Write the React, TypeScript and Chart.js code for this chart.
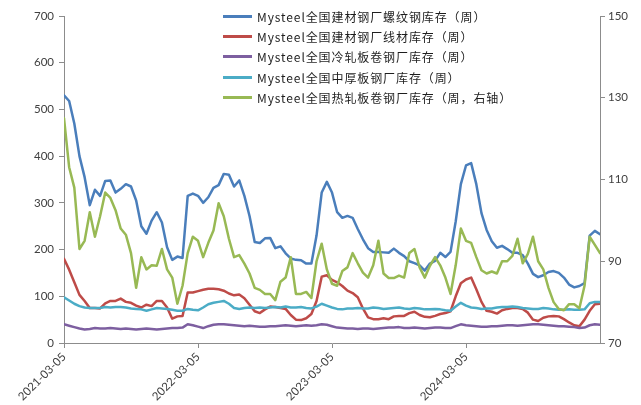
import React, { useEffect, useRef } from 'react';
import { Chart, registerables } from 'chart.js';

Chart.register(...registerables);

// x axis: week index (one point every 2 weeks, starting 2021-03-05)
const tickLabels = ['2021-03-05', '2022-03-05', '2023-03-05', '2024-03-05'];
const weeksPerPoint = 2;
const weeksPerTick = 52;

const seriesNames = [
  'Mysteel全国建材钢厂螺纹钢库存（周）',
  'Mysteel全国建材钢厂线材库存（周）',
  'Mysteel全国冷轧板卷钢厂库存（周）',
  'Mysteel全国中厚板钢厂库存（周）',
  'Mysteel全国热轧板卷钢厂库存（周，右轴）',
];
const seriesColors = ['#4a7ebb', '#be4b48', '#7d5fa0', '#4bacc6', '#98b954'];

const rebar = [
  530, 518, 470, 400, 355, 295, 328, 315, 347, 348,
  322, 330, 340, 335, 305, 250, 234, 262, 280, 258,
  205, 178, 185, 182, 315, 320, 315, 300, 312, 332,
  338, 362, 360, 335, 348, 315, 272, 216, 214, 224,
  225, 203, 207, 192, 181, 178, 177, 170, 170, 230,
  322, 345, 322, 280, 268, 272, 268, 244, 222, 203,
  195, 195, 194, 193, 202, 193, 186, 175, 171, 166,
  155, 170, 176, 193, 184, 195, 260, 340, 380, 385,
  340, 278, 242, 218, 204, 208, 201, 193, 193, 188,
  170, 148, 141, 145, 152, 154, 150, 140, 125, 119,
  122, 128, 230, 240, 233,
];

const wireRod = [
  180, 157, 130, 103, 90, 75, 75, 74, 85, 90,
  90, 95, 88, 86, 80, 76, 82, 79, 90, 90,
  76, 52, 57, 58, 108, 108, 111, 114, 116, 116,
  115, 112, 106, 102, 104, 96, 82, 68, 64, 72,
  78, 77, 75, 73, 60, 50, 49, 53, 62, 90,
  142, 145, 135, 130, 122, 112, 107, 98, 74, 55,
  51, 51, 53, 51, 57, 58, 58, 64, 67, 60,
  56, 55, 58, 62, 64, 68, 100, 128, 136, 140,
  115, 88, 69, 67, 63, 70, 73, 75, 75, 73,
  65, 50, 47, 54, 57, 58, 57, 51, 44, 38,
  36, 50, 69, 83, 84,
];

const coldRolled = [
  40, 37, 34, 31, 29, 30, 32, 31, 31, 32,
  31, 30, 31, 30, 29, 30, 31, 30, 29, 30,
  31, 32, 32, 33, 40, 38, 35, 32, 36, 39,
  40, 40, 39, 38, 37, 36, 37, 36, 35, 35,
  36, 36, 37, 38, 37, 36, 37, 38, 37, 38,
  40, 39, 36, 33, 32, 31, 31, 30, 31, 31,
  30, 31, 32, 33, 33, 34, 32, 32, 33, 32,
  31, 32, 33, 33, 32, 32, 36, 40, 38, 37,
  36, 35, 35, 36, 36, 37, 38, 38, 37, 38,
  39, 40, 40, 39, 38, 37, 36, 36, 35, 34,
  32, 33, 38, 40, 39,
];

const mediumPlate = [
  98, 91, 84, 79, 76, 75, 75, 75, 77, 76,
  77, 77, 76, 74, 73, 72, 69, 72, 75, 74,
  73, 71, 69, 69, 73, 71, 70, 76, 83, 86,
  88, 90, 84, 75, 73, 75, 76, 75, 76, 75,
  76, 77, 76, 78, 76, 76, 77, 75, 74, 78,
  84, 80, 76, 73, 72, 74, 74, 75, 74, 74,
  76, 75, 73, 74, 75, 76, 74, 73, 75, 74,
  72, 72, 73, 72, 70, 69, 78, 86, 80, 76,
  75, 73, 74, 74, 76, 77, 77, 78, 77, 75,
  74, 73, 73, 75, 74, 72, 71, 71, 72, 71,
  71, 72, 85, 88, 88,
];

const hotRolled = [
  125, 113, 108, 93, 95, 102, 96, 101, 106.8, 105.5,
  102.5, 98, 96.5, 92, 83.5, 91, 88, 89, 88.9, 93,
  88, 86, 79.6, 84, 92, 96, 95, 91, 94.5, 97.5,
  104.2, 101, 95.5, 91, 91.5, 89.4, 87, 83.5, 83, 82,
  82, 80.5, 85, 86, 91, 82, 82, 82.5, 81, 90,
  94.3, 88, 84.5, 84, 87.6, 88.5, 92, 89.5, 87.2, 86,
  89, 95, 87, 85.9, 85.9, 86.5, 86, 92, 93, 88.5,
  86, 88.9, 91, 89, 86, 82, 89, 98, 95, 94.5,
  91, 87.8, 87, 87.5, 87, 90, 90, 91.3, 95.5, 89.5,
  91.8, 96, 90, 88, 83.5, 80, 78.3, 78, 79.5, 79.5,
  78.5, 84, 96, 94, 92,
];

const leftSeries = [rebar, wireRod, coldRolled, mediumPlate];

const AXIS_COLOR = '#8c8c8c';
const TEXT_COLOR = '#404040';
const TICK_FONT = { family: 'Lato, "Liberation Sans", sans-serif', size: 11.5 };

function toPoints(arr: number[]) {
  return arr.map((v, i) => ({ x: i * weeksPerPoint, y: v }));
}

export default function App() {
  const canvasRef = useRef<HTMLCanvasElement | null>(null);

  useEffect(() => {
    if (!canvasRef.current) return;
    const maxX = (rebar.length - 1) * weeksPerPoint;
    const datasets: any[] = leftSeries.map((arr, k) => ({
      label: seriesNames[k],
      data: toPoints(arr),
      borderColor: seriesColors[k],
      backgroundColor: seriesColors[k],
      borderWidth: 2.5,
      pointRadius: 0,
      tension: 0,
      borderJoinStyle: 'round',
      borderCapStyle: 'round',
      yAxisID: 'y',
      order: 5 - k,
    }));
    datasets.push({
      label: seriesNames[4],
      data: toPoints(hotRolled),
      borderColor: seriesColors[4],
      backgroundColor: seriesColors[4],
      borderWidth: 2.5,
      pointRadius: 0,
      tension: 0,
      borderJoinStyle: 'round',
      borderCapStyle: 'round',
      yAxisID: 'y1',
      order: 1,
    });

    const chart = new Chart(canvasRef.current, {
      type: 'line',
      data: { datasets },
      options: {
        animation: false,
        responsive: true,
        maintainAspectRatio: false,
        layout: { padding: { top: 16, left: 0, right: 0, bottom: 0 } },
        plugins: { legend: { display: false }, tooltip: { enabled: false } },
        scales: {
          x: {
            type: 'linear',
            min: 0,
            max: maxX,
            border: { display: true, color: AXIS_COLOR, width: 1 },
            grid: {
              display: true,
              drawOnChartArea: false,
              drawTicks: true,
              tickLength: 5,
              color: AXIS_COLOR,
              tickColor: (ctx: any) =>
                ctx.tick && ctx.tick.value / weeksPerTick < tickLabels.length ? AXIS_COLOR : 'rgba(0,0,0,0)',
            },
            ticks: {
              stepSize: weeksPerTick,
              autoSkip: false,
              maxRotation: 45,
              minRotation: 45,
              padding: 2,
              color: TEXT_COLOR,
              font: TICK_FONT,
              callback: (v: any) => {
                const idx = Math.round(Number(v) / weeksPerTick);
                return tickLabels[idx] ?? '';
              },
            },
            afterFit: (s: any) => {
              s.height = 62;
            },
          },
          y: {
            position: 'left',
            min: 0,
            max: 700,
            border: { display: true, color: AXIS_COLOR, width: 1 },
            grid: { display: true, drawOnChartArea: false, tickLength: 5, color: AXIS_COLOR },
            ticks: { stepSize: 100, padding: 5, color: TEXT_COLOR, font: TICK_FONT },
            afterFit: (s: any) => {
              s.width = 64;
            },
          },
          y1: {
            position: 'right',
            min: 70,
            max: 150,
            border: { display: true, color: AXIS_COLOR, width: 1 },
            grid: { display: true, drawOnChartArea: false, tickLength: 5, color: AXIS_COLOR },
            ticks: { stepSize: 20, padding: 3, color: TEXT_COLOR, font: TICK_FONT },
            afterFit: (s: any) => {
              s.width = 41;
            },
          },
        },
      },
    });
    return () => chart.destroy();
  }, []);

  return (
    <div style={{ position: 'fixed', left: 0, top: 0, width: 641, height: 405, background: '#fff' }}>
      <canvas ref={canvasRef} />
      <div
        style={{
          position: 'absolute',
          left: 223,
          top: 6,
          fontFamily: '"Noto Sans CJK SC", sans-serif',
          fontSize: 12,
          letterSpacing: 0.9,
          color: '#1e1e1e',
          pointerEvents: 'none',
        }}
      >
        {seriesNames.map((name, i) => (
          <div key={name} style={{ display: 'flex', alignItems: 'center', height: 20.4, whiteSpace: 'nowrap' }}>
            <span
              style={{ display: 'inline-block', width: 29, height: 3, background: seriesColors[i], marginRight: 5 }}
            />
            <span>{name}</span>
          </div>
        ))}
      </div>
    </div>
  );
}
